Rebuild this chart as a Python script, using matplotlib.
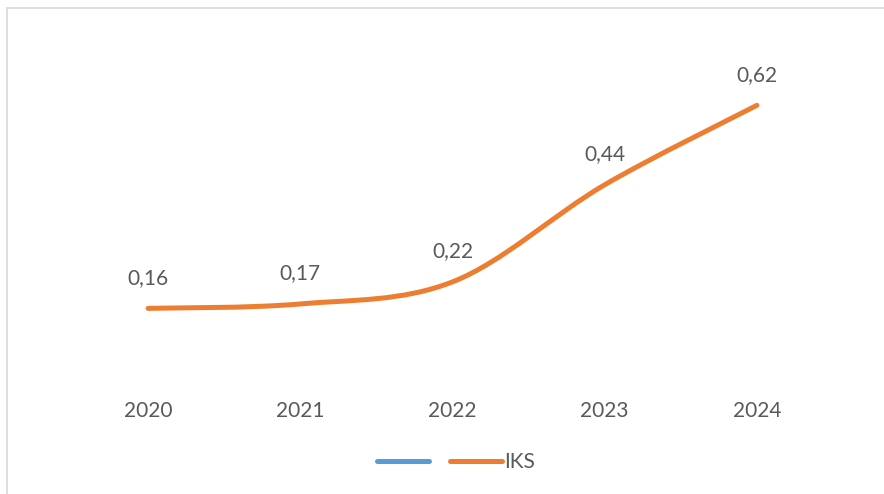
import numpy as np
import matplotlib
matplotlib.use('Agg')
import matplotlib.pyplot as plt
from matplotlib.path import Path
from matplotlib.patches import PathPatch
from matplotlib.lines import Line2D


years = ['2020', '2021', '2022', '2023', '2024']
iks = [0.16, 0.17, 0.22, 0.44, 0.62]
labels = ['0,16', '0,17', '0,22', '0,44', '0,62']

orange = '#ED7D31'
blue = '#5B9BD5'
gray = '#595959'
_fs = 15


def smooth_path(xs, ys):
    # Excel-like smoothing: cubic bezier with catmull-rom control points
    pts = np.column_stack([xs, ys]).astype(float)
    n = len(pts)
    verts = [pts[0]]
    codes = [Path.MOVETO]
    for i in range(n - 1):
        p0 = pts[max(i - 1, 0)]
        p1 = pts[i]
        p2 = pts[i + 1]
        p3 = pts[min(i + 2, n - 1)]
        c1 = p1 + (p2 - p0) / 6.0
        c2 = p2 - (p3 - p1) / 6.0
        verts += [c1, c2, p2]
        codes += [Path.CURVE4] * 3
    return Path(verts, codes)


def draw_chart(ofpath):
    plt.rcParams['font.family'] = ['Lato', 'DejaVu Sans']
    fig = plt.figure(figsize=(8.84, 4.94), dpi=100)
    ax = fig.add_axes([72 / 884, 1 - 379 / 494, 761 / 884, 309 / 494])

    x = np.arange(len(years))
    path = smooth_path(x, iks)
    ax.add_patch(PathPatch(path, facecolor='none', edgecolor=orange,
                           lw=3.6, capstyle='round', joinstyle='round'))

    for xi, yi, lab in zip(x, iks, labels):
        ax.annotate(lab, (xi, yi), xytext=(0, 22), textcoords='offset points',
                    ha='center', va='center', fontsize=_fs, color=gray)

    ax.set_xlim(-0.5, len(years) - 0.5)
    ax.set_ylim(0, 0.7)
    ax.set_xticks(x)
    ax.set_xticklabels(years, fontsize=_fs, color=gray)
    ax.set_yticks([])
    ax.tick_params(axis='x', length=0, pad=16)
    for s in ax.spines.values():
        s.set_visible(False)

    handles = [Line2D([], [], color=blue, lw=3.6, solid_capstyle='round'),
               Line2D([], [], color=orange, lw=3.6, solid_capstyle='round')]
    fig.legend(handles, ['', 'IKS'], loc='center', ncol=2,
               bbox_to_anchor=(456 / 884, 1 - 462 / 494), frameon=False,
               fontsize=_fs, labelcolor=gray, handlelength=2.5,
               handletextpad=0.1, columnspacing=0.9, borderpad=0)

    # chart area border (left and top edges visible)
    fig.add_artist(Line2D([6.5 / 884, 6.5 / 884], [0, 1 - 8.5 / 494],
                          color='#D9D9D9', lw=1.2, transform=fig.transFigure))
    fig.add_artist(Line2D([6.5 / 884, 1], [1 - 8.5 / 494, 1 - 8.5 / 494],
                          color='#D9D9D9', lw=1.2, transform=fig.transFigure))

    fig.savefig(ofpath, dpi=100)
    plt.close(fig)


if __name__ == '__main__':
    draw_chart('out.png')
